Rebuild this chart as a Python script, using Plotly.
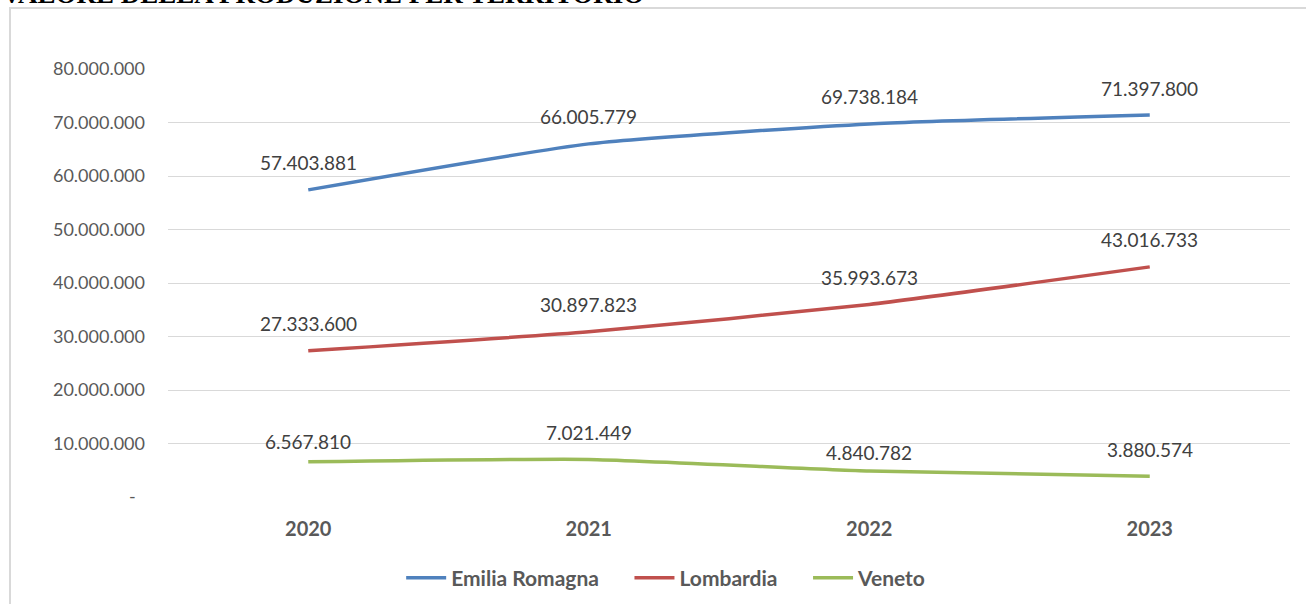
import plotly.graph_objects as go

years = ["2020", "2021", "2022", "2023"]
emilia = [57403881, 66005779, 69738184, 71397800]
lombardia = [27333600, 30897823, 35993673, 43016733]
veneto = [6567810, 7021449, 4840782, 3880574]
series_names = ["Emilia Romagna", "Lombardia", "Veneto"]
y_tickvals = [0, 10000000, 20000000, 30000000, 40000000, 50000000, 60000000, 70000000, 80000000]
title_text = "VALORE DELLA PRODUZIONE PER TERRITORIO"

colors = ["#4F81BD", "#C0504D", "#9BBB59"]
label_shift = {("Veneto", 0): 20, ("Veneto", 2): 19}
legend_pad = "\u00a0" * 5
FONT = "Lato, 'Noto Sans', sans-serif"


def fmt(v):
    if v == 0:
        return "-\u00a0\u00a0"
    return f"{v:,}".replace(",", ".")


fig = go.Figure()
annotations = []
for k, (name, vals, col) in enumerate(zip(series_names, [emilia, lombardia, veneto], colors)):
    shown = name + (legend_pad if k < len(series_names) - 1 else "")
    fig.add_trace(go.Scatter(
        x=years, y=vals, name=shown, mode="lines",
        line=dict(color=col, width=3.5, shape="spline", smoothing=0.5),
        hoverinfo="skip",
    ))
    for i, v in enumerate(vals):
        annotations.append(dict(
            x=i, y=v, xref="x", yref="y", text=fmt(v), showarrow=False,
            yshift=label_shift.get((name, i), 27),
            font=dict(family=FONT, size=19, color="#404040"),
        ))

annotations.append(dict(
    x=-0.1497, y=1.1365, xref="paper", yref="paper", text="<b>" + title_text + "</b>",
    showarrow=False, xanchor="left", yanchor="bottom",
    font=dict(family="Liberation Serif, serif", size=27, color="#000000"),
))

fig.update_layout(
    width=1306, height=604,
    margin=dict(l=168, r=16, t=69, b=107),
    paper_bgcolor="white", plot_bgcolor="white",
    annotations=annotations,
    shapes=[dict(type="rect", xref="paper", yref="paper",
                 x0=-0.1408, y0=-0.6, x1=1.2, y1=1.1425,
                 line=dict(color="#D9D9D9", width=2), fillcolor="rgba(0,0,0,0)", layer="below")],
    showlegend=True,
    legend=dict(orientation="h", x=0.444, xanchor="center",
                yref="container", y=0.043, yanchor="middle",
                font=dict(family=FONT, size=21, color="#595959", weight="bold"),
                itemwidth=40, tracegroupgap=0, bgcolor="rgba(0,0,0,0)"),
    xaxis=dict(type="category", range=[-0.5, 3.5], showgrid=False, zeroline=False, showline=False,
               ticks="", ticklabelstandoff=18,
               tickfont=dict(family=FONT, size=20, color="#595959", weight="bold")),
    yaxis=dict(range=[0, 80000000], tickvals=y_tickvals, ticktext=[fmt(v) for v in y_tickvals],
               showgrid=True, gridcolor="#D9D9D9", gridwidth=1, zeroline=False, showline=False,
               ticks="", ticklabelstandoff=22,
               tickfont=dict(family=FONT, size=18, color="#595959")),
)

fig.write_html("out.html", config={"displayModeBar": False},
               post_script="document.body.style.margin='0';")
